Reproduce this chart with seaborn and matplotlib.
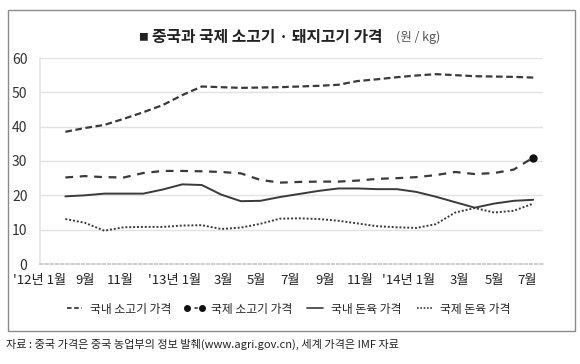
import numpy as np
import pandas as pd
import matplotlib
matplotlib.use("Agg")
import matplotlib.pyplot as plt
from matplotlib.lines import Line2D
from matplotlib.patches import Rectangle
import seaborn as sns

sns.set_theme(style="white")
plt.rcParams['font.family'] = ['Noto Sans CJK KR', 'DejaVu Sans']

# ---- data (half-step positions along the time axis) ----
domestic_beef = [38.5, 39.6, 40.5, 42.3, 44.2, 46.3, 49.2, 51.7, 51.5, 51.3, 51.4, 51.5, 51.7,
                 51.9, 52.2, 53.3, 53.8, 54.4, 54.9, 55.3, 55.0, 54.7, 54.6, 54.5, 54.3]
intl_beef = [25.2, 25.6, 25.3, 25.2, 26.5, 27.1, 27.1, 27.0, 26.8, 26.4, 24.5, 23.7, 23.9,
             24.0, 24.0, 24.3, 24.8, 25.0, 25.3, 25.9, 26.8, 26.2, 26.5, 27.5, 31.0]
domestic_pork = [19.7, 20.0, 20.5, 20.5, 20.5, 21.7, 23.2, 23.0, 20.2, 18.3, 18.4, 19.5, 20.4,
                 21.3, 22.0, 22.0, 21.8, 21.8, 21.0, 19.6, 18.0, 16.4, 17.6, 18.4, 18.7]
intl_pork = [13.1, 12.0, 9.7, 10.7, 10.8, 10.8, 11.2, 11.3, 10.2, 10.6, 11.7, 13.2, 13.3,
             13.1, 12.6, 11.8, 11.0, 10.7, 10.5, 11.6, 15.0, 16.3, 15.0, 15.5, 17.6]
tick_labels = ["'12년 1월", "9월", "11월", "'13년 1월", "3월", "5월", "7월", "9월", "11월",
               "'14년 1월", "3월", "5월", "7월"]
series_names = ["국내 소고기 가격", "국제 소고기 가격", "국내 돈육 가격", "국제 돈육 가격"]
y_ticks = [0, 10, 20, 30, 40, 50, 60]

x = np.arange(len(domestic_beef))
df = pd.DataFrame({"x": x, "db": domestic_beef, "ib": intl_beef,
                   "dp": domestic_pork, "ip": intl_pork})

# layout: label positions along axis (labels are spread by text width)
tick_pos = [-1.3, 1.0, 2.8, 5.6, 8.1, 9.8, 11.5, 13.3, 15.1, 17.6, 20.2, 22.0, 23.7]

fig = plt.figure(figsize=(5.8, 3.64), dpi=100)
ax = fig.add_axes([40/580, 1-264/364, 503/580, 206/364])

lc = "#3a3a3a"
sns.lineplot(data=df, x="x", y="db", ax=ax, color=lc, lw=1.6, linestyle=(0, (3.0, 1.6)))
sns.lineplot(data=df, x="x", y="ib", ax=ax, color=lc, lw=1.6, linestyle=(0, (3.5, 3.0)))
sns.lineplot(data=df, x="x", y="dp", ax=ax, color=lc, lw=1.4, linestyle="-")
sns.lineplot(data=df, x="x", y="ip", ax=ax, color=lc, lw=1.4, linestyle=(0, (1.0, 1.0)))
ax.plot(df["x"].iloc[-1], df["ib"].iloc[-1], 'o', color="#111111", ms=5)

ax.set_xlim(-0.5, 24.5)
ax.set_ylim(0, 60)
ax.set_yticks(y_ticks)
ax.set_yticklabels([str(v) for v in y_ticks], fontsize=10, color="#333333")
ax.set_xticks(tick_pos)
ax.set_xticklabels(tick_labels, fontsize=9.5, color="#222222")
ax.set_xlabel("")
ax.set_ylabel("")
for yv in y_ticks[1:]:
    ax.axhline(yv, color="#e2e2e2", lw=1.0, zorder=0)
ax.tick_params(axis='y', length=0, pad=9)
ax.tick_params(axis='x', length=0, pad=7)
for s in ["top", "right"]:
    ax.spines[s].set_visible(False)
ax.spines["left"].set_color("#e6e6e6")
ax.spines["bottom"].set_color("#c8c8c8")
ax.spines["bottom"].set_linestyle((0, (1.5, 1.5)))

# outer frame
fig.patches.append(Rectangle((8/580, 1-331/364), 567/580, 321/364, transform=fig.transFigure,
                             fill=False, edgecolor="#8a8a8a", lw=1.0))

# title
fig.text(143/580, 1-37/364, "■", ha="center", va="center", fontsize=7, color="#222222")
fig.text(383/580, 1-37/364, "중국과 국제 소고기 · 돼지고기 가격", ha="right", va="center",
         fontsize=11.4, fontweight="bold", color="#222222")
fig.text(396/580, 1-37/364, "(원 / kg)", ha="left", va="center", fontsize=9, color="#555555")

# legend
h1 = Line2D([], [], color=lc, lw=1.3, linestyle=(0, (2.5, 1.5)))
h2 = Line2D([], [], color=lc, lw=1.2, linestyle=(0, (2.0, 2.5)), marker='o', ms=4,
            markevery=[1], markerfacecolor="#111111", markeredgecolor="#111111")
h3 = Line2D([], [], color=lc, lw=1.2, linestyle="-")
h4 = Line2D([], [], color=lc, lw=1.2, linestyle=(0, (1.0, 1.0)))
fig.legend([h1, h2, h3, h4], series_names, loc="center", bbox_to_anchor=(287/580, 1-309/364),
           ncol=4, frameon=False, fontsize=8.5, handlelength=1.9, handletextpad=0.4,
           columnspacing=1.0, numpoints=2)

# source
fig.text(6/580, 1-344/364, "자료 : 중국 가격은 중국 농업부의 정보 발췌(www.agri.gov.cn), 세계 가격은 IMF 자료",
         ha="left", va="center", fontsize=8, color="#222222")

fig.savefig("out.png", dpi=100)
